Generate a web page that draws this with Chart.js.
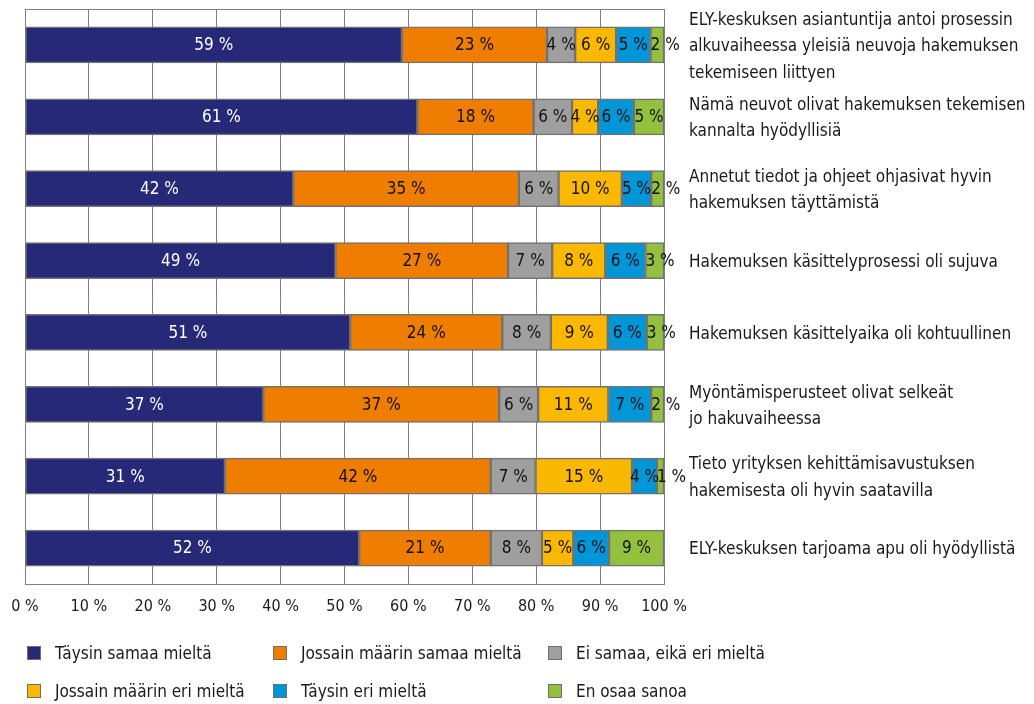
<!DOCTYPE html>
<html>
<head>
<meta charset="utf-8">
<script src="https://cdn.jsdelivr.net/npm/chart.js@4.4.1/dist/chart.umd.min.js"></script>
<style>
  html, body { margin: 0; padding: 0; background: #ffffff; }
  #wrap { position: relative; width: 1034px; height: 704px; }
  #legend {
    position: absolute; left: 27px; top: 640px;
    display: grid; grid-template-columns: 246px 275px 300px; row-gap: 13px;
    font-family: "DejaVu Sans Condensed", "DejaVu Sans", sans-serif;
    font-stretch: condensed;
    font-size: 17px; color: #1a1a1a;
  }
  #legend .item { display: flex; align-items: center; height: 25px; white-space: nowrap; }
  #legend .box { flex-shrink: 0; width: 12px; height: 12px; border: 1px solid #6e6e6e; margin-right: 14px; }
</style>
</head>
<body>
<div id="wrap">
  <canvas id="surveyChart"></canvas>
  <div id="legend"></div>
</div>
<script>
/* global Chart */

let categories = [
  ["ELY-keskuksen asiantuntija antoi prosessin", "alkuvaiheessa yleisiä neuvoja hakemuksen", "tekemiseen liittyen"],
  ["Nämä neuvot olivat hakemuksen tekemisen", "kannalta hyödyllisiä"],
  ["Annetut tiedot ja ohjeet ohjasivat hyvin", "hakemuksen täyttämistä"],
  "Hakemuksen käsittelyprosessi oli sujuva",
  "Hakemuksen käsittelyaika oli kohtuullinen",
  ["Myöntämisperusteet olivat selkeät", "jo hakuvaiheessa"],
  ["Tieto yrityksen kehittämisavustuksen", "hakemisesta oli hyvin saatavilla"],
  "ELY-keskuksen tarjoama apu oli hyödyllistä",
];

let seriesNames = [
  "Täysin samaa mieltä",
  "Jossain määrin samaa mieltä",
  "Ei samaa, eikä eri mieltä",
  "Jossain määrin eri mieltä",
  "Täysin eri mieltä",
  "En osaa sanoa",
];

// shares in percent
let taysinSamaa = [59.0, 61.4, 42.0, 48.6, 50.9, 37.3, 31.3, 52.3];
let jossainSamaa = [22.7, 18.2, 35.3, 27.0, 23.8, 36.9, 41.6, 20.6];
let eiSamaaEiEri = [4.4, 6.0, 6.2, 6.9, 7.6, 6.1, 7.0, 8.0];
let jossainEri = [6.4, 4.1, 9.9, 8.3, 8.9, 11.0, 15.1, 4.9];
let taysinEri = [5.4, 5.6, 4.6, 6.3, 6.1, 6.7, 3.9, 5.6];
let enOsaa = [2.1, 4.7, 2.0, 2.9, 2.7, 2.0, 1.1, 8.6];

let xTicks = [0, 10, 20, 30, 40, 50, 60, 70, 80, 90, 100];

let colors = ["#262978", "#ee7d00", "#9f9f9f", "#fbb800", "#0096d8", "#94c13d"];
let labelColors = ["#ffffff", "#111111", "#111111", "#111111", "#111111", "#111111"];

let allSeries = [taysinSamaa, jossainSamaa, eiSamaaEiEri, jossainEri, taysinEri, enOsaa];

const FAMILY = '"DejaVu Sans Condensed", "DejaVu Sans", sans-serif';
Chart.defaults.font.family = FAMILY;
Chart.defaults.font.weight = "condensed";
Chart.defaults.color = "#1a1a1a";

// frame round the plot area (top/bottom are not part of the x grid)
const frame = {
  id: "frame",
  beforeDatasetsDraw(chart) {
    const a = chart.chartArea;
    const ctx = chart.ctx;
    ctx.save();
    ctx.strokeStyle = "#7f7f7f";
    ctx.lineWidth = 1;
    ctx.strokeRect(Math.round(a.left) + 0.5, Math.round(a.top) + 0.5, Math.round(a.width), Math.round(a.height));
    ctx.restore();
  },
};

// "59 %" style labels in the middle of every segment
const valueLabels = {
  id: "valueLabels",
  afterDatasetsDraw(chart) {
    const ctx = chart.ctx;
    ctx.save();
    ctx.font = "condensed 17px " + FAMILY;
    ctx.textBaseline = "middle";
    ctx.textAlign = "center";
    chart.data.datasets.forEach((ds, i) => {
      const meta = chart.getDatasetMeta(i);
      meta.data.forEach((bar, j) => {
        const text = Math.round(ds.data[j]) + " %";
        const w = ctx.measureText(text).width;
        const left = Math.min(bar.x, bar.base);
        let x = (bar.x + bar.base) / 2;
        // last (narrow) segment: let the label run out to the right
        if (i === chart.data.datasets.length - 1) {
          x = Math.max(x, left + w / 2);
        }
        ctx.fillStyle = labelColors[i];
        ctx.fillText(text, x, bar.y + 1);
      });
    });
    ctx.restore();
  },
};

var ctx = document.getElementById("surveyChart").getContext("2d");
var surveyChart = new Chart(ctx, {
  type: "bar",
  data: {
    labels: categories,
    datasets: allSeries.map((values, i) => ({
      label: seriesNames[i],
      data: values,
      backgroundColor: colors[i],
      borderColor: "#727272",
      borderWidth: 1.5,
      borderSkipped: false,
      barThickness: 36,
    })),
  },
  options: {
    indexAxis: "y",
    responsive: true,
    maintainAspectRatio: false,
    animation: false,
    layout: {
      padding: { top: 9, left: 25, right: 0, bottom: 80 },
    },
    plugins: {
      legend: { display: false },
      tooltip: { enabled: false },
    },
    scales: {
      x: {
        stacked: true,
        min: 0,
        max: 100,
        afterBuildTicks: (scale) => {
          scale.ticks = xTicks.map((v) => ({ value: v }));
        },
        ticks: {
          callback: (v) => v + " %",
          font: { size: 16 },
          padding: 13,
          maxRotation: 0,
          autoSkip: false,
          color: "#1a1a1a",
        },
        grid: { color: "#7f7f7f", lineWidth: 1, drawTicks: false },
        border: { display: false },
        afterFit: (scale) => {
          scale.height = 40;
          scale.paddingLeft = 0;
          scale.paddingRight = 0;
        },
      },
      y: {
        stacked: true,
        position: "right",
        grid: { display: false, drawTicks: false },
        border: { display: false },
        ticks: {
          font: { size: 17, lineHeight: 1.55 },
          padding: 25,
          labelOffset: 2,
          autoSkip: false,
          color: "#1a1a1a",
        },
        afterFit: (scale) => {
          scale.width = 370;
          scale.paddingTop = 0;
          scale.paddingBottom = 0;
        },
      },
    },
  },
  plugins: [frame, valueLabels],
});

// legend laid out as a 3 x 2 grid like the original
let legendEl = document.getElementById("legend");
surveyChart.data.datasets.forEach((ds) => {
  let item = document.createElement("div");
  item.className = "item";
  let box = document.createElement("span");
  box.className = "box";
  box.style.background = ds.backgroundColor;
  let txt = document.createElement("span");
  txt.textContent = ds.label;
  item.appendChild(box);
  item.appendChild(txt);
  legendEl.appendChild(item);
});
</script>
</body>
</html>
